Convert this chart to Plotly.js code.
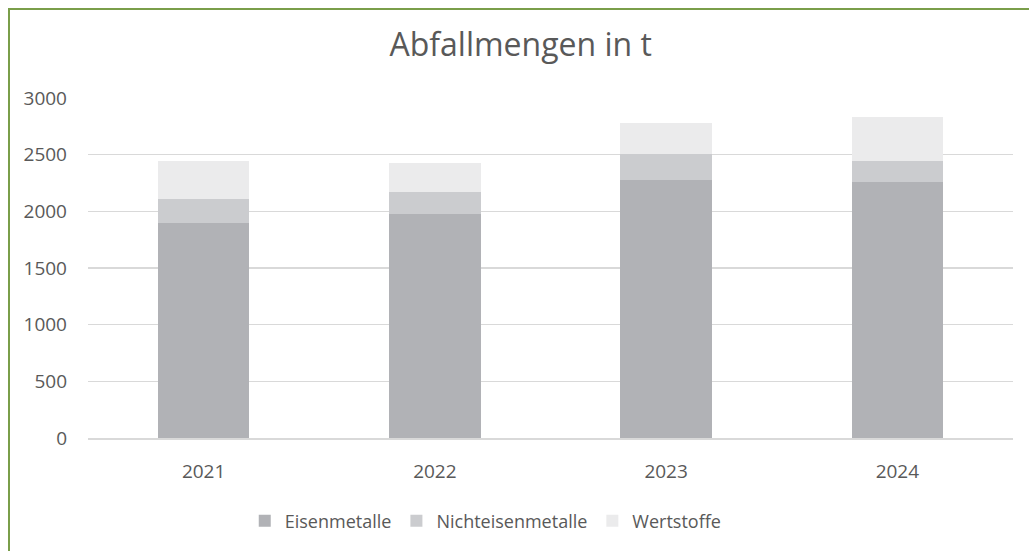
<!DOCTYPE html>
<html>
<head>
<meta charset="utf-8">
<script src="https://cdn.plot.ly/plotly-3.0.1.min.js"></script>
<style>
  html, body { margin: 0; padding: 0; background: #fff; }
  #wrap { position: relative; width: 1029px; height: 551px; overflow: hidden; }
  #frame { position: absolute; left: 8px; top: 8px; width: 1040px; height: 560px;
           border-left: 2px solid #7a9e4a; border-top: 2px solid #7a9e4a; pointer-events: none; z-index: 5; }
  #chart { position: absolute; left: 0; top: 0; width: 1029px; height: 551px; }
</style>
</head>
<body>
<div id="wrap">
  <div id="chart"></div>
  <div id="frame"></div>
</div>
<script>
const years = ['2021', '2022', '2023', '2024'];
const eisenmetalle = [1900, 1977, 2277, 2259];
const nichteisenmetalle = [210, 191, 226, 188];
const wertstoffe = [335, 256, 279, 383];
const seriesNames = ['Eisenmetalle', 'Nichteisenmetalle', 'Wertstoffe'];
const yTicks = [0, 500, 1000, 1500, 2000, 2500, 3000];

const colors = ['#b1b2b6', '#cbcccf', '#ebebec'];
const font = 'Open Sans, Liberation Sans, sans-serif';
const txt = '#595959';

const traces = [eisenmetalle, nichteisenmetalle, wertstoffe].map((vals, i) => ({
  type: 'bar',
  name: seriesNames[i],
  x: years,
  y: vals,
  marker: { color: colors[i], line: { width: 0 } },
  hoverinfo: 'x+y+name'
}));

const layout = {
  width: 1029,
  height: 551,
  margin: { l: 88, r: 16, t: 98, b: 113 },
  paper_bgcolor: '#ffffff',
  plot_bgcolor: '#ffffff',
  barmode: 'stack',
  bargap: 0.605,
  showlegend: true,
  title: {
    text: 'Abfallmengen in t',
    font: { family: font, size: 32, color: txt },
    x: 0.506, xanchor: 'center',
    y: 1 - 45 / 551, yanchor: 'middle', yref: 'container'
  },
  xaxis: {
    type: 'category',
    showgrid: false,
    showline: true,
    linecolor: '#d9d9d9',
    linewidth: 1.5,
    ticks: '',
    ticklabelstandoff: 16,
    tickfont: { family: font, size: 19, color: txt },
    zeroline: false
  },
  yaxis: {
    range: [0, 3000],
    tickvals: yTicks,
    ticktext: yTicks.map(String),
    showgrid: true,
    gridcolor: '#d9d9d9',
    gridwidth: 1.5,
    zeroline: false,
    showline: false,
    ticks: '',
    ticklabelstandoff: 20,
    tickfont: { family: font, size: 19, color: txt }
  },
  legend: {
    orientation: 'h',
    x: 0.43, xanchor: 'center',
    y: -0.244, yanchor: 'middle',
    traceorder: 'normal',
    font: { family: font, size: 18, color: txt },
    itemwidth: 30,
    bgcolor: 'rgba(0,0,0,0)'
  }
};

Plotly.newPlot('chart', traces, layout, { displayModeBar: false, staticPlot: true });
</script>
</body>
</html>
